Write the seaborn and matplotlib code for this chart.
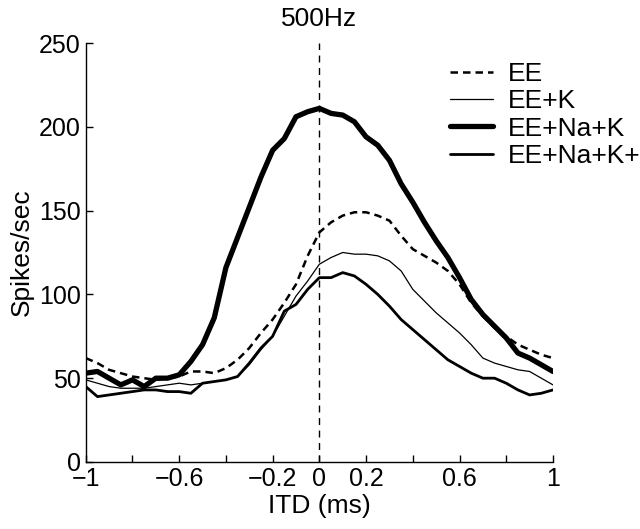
import matplotlib
matplotlib.use("Agg")
import matplotlib.pyplot as plt
import seaborn as sns
import pandas as pd

itd = [-1.0, -0.95, -0.9, -0.85, -0.8, -0.75, -0.7, -0.65, -0.6, -0.55, -0.5,
       -0.45, -0.4, -0.35, -0.3, -0.25, -0.2, -0.15, -0.1, -0.05, 0.0,
       0.05, 0.1, 0.15, 0.2, 0.25, 0.3, 0.35, 0.4, 0.45, 0.5,
       0.55, 0.6, 0.65, 0.7, 0.75, 0.8, 0.85, 0.9, 0.95, 1.0]

ee = [62, 59, 55, 53, 51, 50, 49, 50, 51, 54, 54,
      53, 56, 61, 68, 77, 85, 95, 106, 123, 137,
      143, 147, 149, 149, 147, 144, 135, 127, 123, 119,
      114, 106, 95, 87, 80, 75, 70, 67, 64, 62]

ee_k = [49, 47, 45, 44, 44, 44, 45, 46, 47, 46, 47,
        48, 49, 51, 58, 67, 75, 87, 99, 108, 118,
        122, 125, 124, 124, 123, 120, 114, 103, 96, 89,
        83, 77, 70, 62, 59, 57, 55, 54, 50, 46]

ee_na_k = [53, 54, 50, 46, 49, 45, 50, 50, 52, 60, 70,
           86, 116, 134, 152, 170, 186, 193, 206, 209, 211,
           208, 207, 203, 194, 189, 180, 166, 155, 143, 132,
           122, 110, 97, 88, 81, 74, 65, 62, 58, 54]

ee_na_k_i = [45, 39, 40, 41, 42, 43, 43, 42, 42, 41, 47,
             48, 49, 51, 59, 68, 75, 90, 94, 103, 110,
             110, 113, 111, 106, 100, 93, 85, 79, 73, 67,
             61, 57, 53, 50, 50, 47, 43, 40, 41, 43]

labels = ["EE", "EE+K", "EE+Na+K", "EE+Na+K+I"]
series = [ee, ee_k, ee_na_k, ee_na_k_i]
xticks = [-1, -0.8, -0.6, -0.4, -0.2, 0, 0.2, 0.4, 0.6, 0.8, 1]
xticklabels = ["\u22121", "", "\u22120.6", "", "\u22120.2", "0", "0.2", "", "0.6", "", "1"]
yticks = [0, 50, 100, 150, 200, 250]

sns.set_style("ticks")
plt.rcParams['font.family'] = ['Liberation Sans', 'DejaVu Sans']
plt.rcParams['xtick.direction'] = 'in'
plt.rcParams['ytick.direction'] = 'in'
plt.rcParams['text.color'] = 'black'
plt.rcParams['axes.labelcolor'] = 'black'
plt.rcParams['xtick.color'] = 'black'
plt.rcParams['ytick.color'] = 'black'

fig = plt.figure(figsize=(6.4, 5.29), dpi=100)
ax = fig.add_axes([0.134, 0.1267, 0.73, 0.792])

styles = [dict(lw=1.8, ls=(0, (3, 2))), dict(lw=0.9, ls='-'),
          dict(lw=3.8, ls='-'), dict(lw=2.0, ls='-')]

for lab, vals, st in zip(labels, series, styles):
    df = pd.DataFrame({"ITD": itd, "rate": vals})
    sns.lineplot(data=df, x="ITD", y="rate", ax=ax, color='k',
                 label=lab, linewidth=st['lw'], linestyle=st['ls'])

ax.axvline(0, color='k', lw=1.0, ls=(0, (5, 4)))

ax.set_xlim(-1, 1)
ax.set_ylim(0, 250)
ax.set_xticks(xticks)
ax.set_xticklabels(xticklabels)
ax.set_yticks(yticks)
ax.tick_params(labelsize=18, length=5, width=1, colors='k')
ax.set_xlabel("ITD (ms)", fontsize=19, labelpad=2)
ax.set_ylabel("Spikes/sec", fontsize=19, labelpad=4)
ax.set_title("500Hz", fontsize=19, pad=12)
sns.despine(ax=ax)
for s in ['left', 'bottom']:
    ax.spines[s].set_linewidth(1.0)
    ax.spines[s].set_color('k')

leg = ax.legend(loc='upper left', bbox_to_anchor=(0.779, 0.955), frameon=False,
                fontsize=19, handlelength=1.65, handletextpad=0.55,
                labelspacing=0.13, borderaxespad=0, borderpad=0)

fig.savefig("out.png", dpi=100)
